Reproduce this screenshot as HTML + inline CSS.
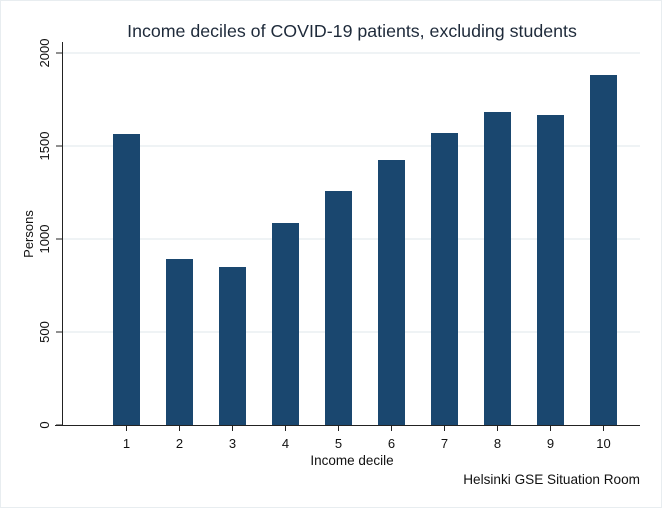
<!DOCTYPE html>
<html><head><style>body{margin:0;background:#fff}svg{display:block}</style></head>
<body>
<svg width="662" height="508" viewBox="0 0 662 508" xmlns="http://www.w3.org/2000/svg" font-family="Liberation Sans, Arial, sans-serif">
<rect x="0.5" y="0.5" width="661" height="507" fill="#fff" stroke="#e8edf0"/>
<text x="352" y="37" font-size="17.8" text-anchor="middle" fill="#1e2a3a">Income deciles of COVID-19 patients, excluding students</text>
<g stroke="#eaeff2" stroke-width="1.5">
<line x1="63" x2="640" y1="53" y2="53"/><line x1="63" x2="640" y1="146" y2="146"/>
<line x1="63" x2="640" y1="239" y2="239"/><line x1="63" x2="640" y1="332" y2="332"/>
</g>
<g fill="#1a476f">
<rect x="113" y="134" width="27" height="291"/>
<rect x="166" y="259" width="27" height="166"/>
<rect x="219" y="267" width="27" height="158"/>
<rect x="272" y="223" width="27" height="202"/>
<rect x="325" y="191" width="27" height="234"/>
<rect x="378" y="160" width="27" height="265"/>
<rect x="431" y="133" width="27" height="292"/>
<rect x="484" y="112" width="27" height="313"/>
<rect x="537" y="115" width="27" height="310"/>
<rect x="590" y="75" width="27" height="350"/>
</g>
<g stroke="#222" stroke-width="1">
<line x1="62.5" y1="42" x2="62.5" y2="425"/>
<line x1="55" y1="425.5" x2="640" y2="425.5"/>
<line x1="56" x2="62" y1="53" y2="53"/><line x1="56" x2="62" y1="146" y2="146"/>
<line x1="56" x2="62" y1="239" y2="239"/><line x1="56" x2="62" y1="332" y2="332"/>
<line x1="56" x2="62" y1="425" y2="425"/>
</g>
<g stroke="#222">
<line x1="126.5" x2="126.5" y1="425" y2="431"/><line x1="179.5" x2="179.5" y1="425" y2="431"/>
<line x1="232.5" x2="232.5" y1="425" y2="431"/><line x1="285.5" x2="285.5" y1="425" y2="431"/>
<line x1="338.5" x2="338.5" y1="425" y2="431"/><line x1="391.5" x2="391.5" y1="425" y2="431"/>
<line x1="444.5" x2="444.5" y1="425" y2="431"/><line x1="497.5" x2="497.5" y1="425" y2="431"/>
<line x1="550.5" x2="550.5" y1="425" y2="431"/><line x1="603.5" x2="603.5" y1="425" y2="431"/>
</g>
<g font-size="13" fill="#111" text-anchor="middle">
<text transform="translate(49,53) rotate(-90)">2000</text>
<text transform="translate(49,146) rotate(-90)">1500</text>
<text transform="translate(49,239) rotate(-90)">1000</text>
<text transform="translate(49,332) rotate(-90)">500</text>
<text transform="translate(49,425) rotate(-90)">0</text>
<text x="126.5" y="448">1</text><text x="179.5" y="448">2</text><text x="232.5" y="448">3</text>
<text x="285.5" y="448">4</text><text x="338.5" y="448">5</text><text x="391.5" y="448">6</text>
<text x="444.5" y="448">7</text><text x="497.5" y="448">8</text><text x="550.5" y="448">9</text>
<text x="603.5" y="448">10</text>
<text x="352" y="465" font-size="13.5">Income decile</text>
<text transform="translate(33,234) rotate(-90)">Persons</text>
<text x="640" y="484" text-anchor="end" font-size="13.6">Helsinki GSE Situation Room</text>
</g>
</svg>
</body></html>
